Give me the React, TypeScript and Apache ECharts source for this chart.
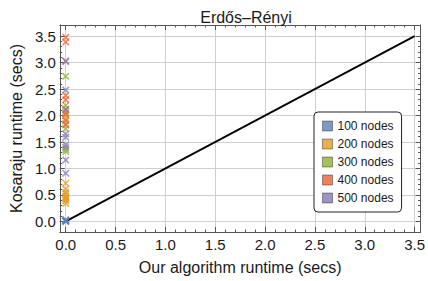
import React, { useEffect, useRef } from "react";
import * as echarts from "echarts";

const seriesNames = ["100 nodes", "200 nodes", "300 nodes", "400 nodes", "500 nodes"];
const seriesColors = ["#5E81B5", "#E19C24", "#8FB032", "#EB6235", "#8778B3"];

// Kosaraju runtime values (all measured at "our algorithm" runtime ≈ 0)
const ours100 = [0.0, 0.0, 0.0, 0.0, 0.0, 0.0];
const kosa100 = [0.0, 0.01, 0.02, 0.03, 0.005, 0.015];
const ours200 = [0, 0, 0, 0, 0, 0, 0, 0, 0, 0, 0];
const kosa200 = [2.0, 1.94, 0.72, 0.61, 0.55, 0.52, 0.47, 0.45, 0.42, 0.39, 0.34];
const ours300 = [0, 0, 0, 0, 0, 0, 0];
const kosa300 = [2.74, 2.19, 2.06, 1.84, 1.75, 1.36, 1.32];
const ours400 = [0, 0, 0, 0, 0, 0, 0, 0, 0];
const kosa400 = [3.48, 3.39, 3.03, 2.38, 2.3, 2.12, 2.03, 1.9, 1.82];
const ours500 = [0, 0, 0, 0, 0, 0, 0, 0, 0];
const kosa500 = [3.02, 2.48, 2.11, 1.65, 1.59, 1.45, 1.4, 1.16, 0.91];

const diagX = [0, 3.5];
const diagY = [0, 3.5];

const majorTicks = [0, 0.5, 1, 1.5, 2, 2.5, 3, 3.5];
const minorTicks = [
  0.1, 0.2, 0.3, 0.4, 0.6, 0.7, 0.8, 0.9, 1.1, 1.2, 1.3, 1.4, 1.6, 1.7, 1.8, 1.9,
  2.1, 2.2, 2.3, 2.4, 2.6, 2.7, 2.8, 2.9, 3.1, 3.2, 3.3, 3.4,
];

const xs = [ours100, ours200, ours300, ours400, ours500];
const ys = [kosa100, kosa200, kosa300, kosa400, kosa500];

const CROSS =
  "path://M0,1.4L1.4,0L5,3.6L8.6,0L10,1.4L6.4,5L10,8.6L8.6,10L5,6.4L1.4,10L0,8.6L3.6,5Z";

const FONT = "Liberation Sans, Arial, sans-serif";
const FRAME = "#555";
const TEXT = "#1a1a1a";

export default function App() {
  const ref = useRef<HTMLDivElement>(null);
  useEffect(() => {
    if (!ref.current) return;
    const chart = echarts.init(ref.current, null, { renderer: "svg" });
    const X_MIN = -0.06, X_MAX = 3.56, Y_MIN = -0.2, Y_MAX = 3.71;

    const mkAxis = (pos: string, min: number, max: number, major: boolean, labels: boolean, name?: string) => ({
      type: "value",
      position: pos,
      min,
      max,
      name: name,
      nameLocation: "middle",
      nameGap: pos === "left" ? 33 : 27,
      nameTextStyle: { fontFamily: FONT, fontSize: 16, color: TEXT },
      axisLine: { show: major, onZero: false, lineStyle: { color: FRAME, width: 1 } },
      axisTick: {
        show: true,
        inside: true,
        length: major ? 5 : 2.5,
        customValues: major ? majorTicks : minorTicks,
        lineStyle: { color: FRAME, width: 1 },
      },
      axisLabel: {
        show: labels,
        customValues: majorTicks,
        formatter: (v: number) => v.toFixed(1),
        fontFamily: FONT,
        fontSize: 15,
        color: TEXT,
        margin: pos === "left" ? 4 : 5,
      },
      splitLine: {
        show: major && labels,
        lineStyle: { color: "#cfcfcf", width: 1 },
      },
    });

    const scatter = seriesNames.map((name, i) => ({
      type: "scatter",
      name,
      symbol: CROSS,
      symbolSize: 7.5,
      itemStyle: { color: seriesColors[i] },
      data: xs[i].map((x, j) => [x, ys[i][j]]),
      z: 3,
    }));

    chart.setOption({
      animation: false,
      title: {
        text: "Erdős–Rényi",
        left: 241,
        textAlign: "center",
        top: 4,
        textStyle: { fontFamily: FONT, fontSize: 16, fontWeight: "normal", color: TEXT },
      },
      grid: { left: 58, right: 4, top: 25, bottom: 49, containLabel: false },
      xAxis: [
        mkAxis("bottom", X_MIN, X_MAX, true, true, "Our algorithm runtime (secs)"),
        mkAxis("bottom", X_MIN, X_MAX, false, false),
        mkAxis("top", X_MIN, X_MAX, true, false),
        mkAxis("top", X_MIN, X_MAX, false, false),
      ],
      yAxis: [
        mkAxis("left", Y_MIN, Y_MAX, true, true, "Kosaraju runtime (secs)"),
        mkAxis("left", Y_MIN, Y_MAX, false, false),
        mkAxis("right", Y_MIN, Y_MAX, true, false),
        mkAxis("right", Y_MIN, Y_MAX, false, false),
      ],
      legend: {
        orient: "vertical",
        left: 314,
        top: 112,
        width: 80,
        padding: [8, 8, 8, 8],
        itemGap: 6,
        itemWidth: 10,
        itemHeight: 10,
        icon: "rect",
        backgroundColor: "#fff",
        borderColor: "#222",
        borderWidth: 1,
        borderRadius: 4,
        itemStyle: { borderColor: "rgba(0,0,0,0.45)", borderWidth: 1 },
        textStyle: { fontFamily: FONT, fontSize: 12, color: TEXT },
        data: seriesNames,
      },
      series: [
        {
          type: "line",
          name: "diag",
          data: diagX.map((x, i) => [x, diagY[i]]),
          symbol: "none",
          lineStyle: { color: "#000", width: 1.8 },
          z: 2,
        },
        ...scatter,
      ],
    });
    return () => chart.dispose();
  }, []);
  return <div ref={ref} style={{ width: 428, height: 281, position: "absolute", left: 0, top: 0 }} />;
}
